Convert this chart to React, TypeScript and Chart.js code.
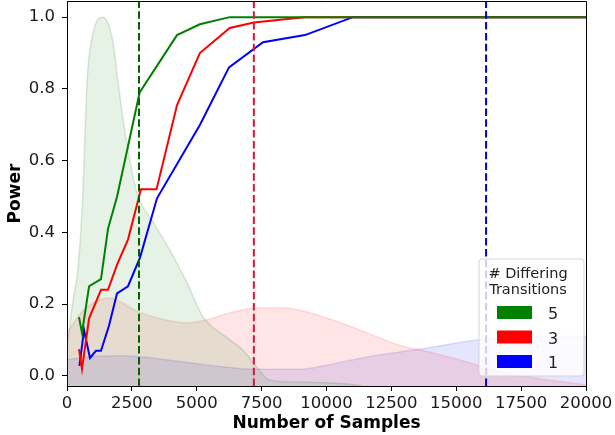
import { useEffect, useRef } from "react";
import { Chart, registerables } from "chart.js";

Chart.register(...registerables);

// ---- axes ----
const xMin = 0;
const xMax = 20000;
const yMin = -0.028;
const yMax = 1.045;
const xTicks = [0, 2500, 5000, 7500, 10000, 12500, 15000, 17500, 20000];
const yTicks = [0.0, 0.2, 0.4, 0.6, 0.8, 1.0];

// ---- legend ----
const legendTitle = ["# Differing", "Transitions"];
const groupLabels = ["5", "3", "1"];

// ---- power curves ----
const powerX5 = [462, 578, 850, 1310, 1580, 1930, 2800, 4240, 5120, 6270, 20000];
const powerY5 = [0.164, 0.12, 0.25, 0.27, 0.41, 0.5, 0.79, 0.95, 0.98, 1.0, 1.0];

const powerX3 = [462, 578, 850, 1310, 1580, 1930, 2350, 2850, 3450, 4240, 5120, 6270, 7200, 9160, 20000];
const powerY3 = [0.075, 0.02, 0.16, 0.24, 0.24, 0.31, 0.38, 0.52, 0.52, 0.755, 0.9, 0.97, 0.985, 1.0, 1.0];

const powerX1 = [480, 655, 885, 1117, 1310, 1618, 1927, 2350, 2813, 3468, 5125, 6243, 7553, 9170, 11020, 20000];
const powerY1 = [0.028, 0.128, 0.05, 0.07, 0.07, 0.14, 0.23, 0.25, 0.33, 0.495, 0.7, 0.86, 0.93, 0.95, 1.0, 1.0];

// ---- sample-size densities (drawn in power units) ----
const densX5 = [0, 231, 424, 600, 771, 1002, 1387, 1773, 1965, 2235, 2697, 3314, 3969, 4624, 5241, 6127, 6782, 7399, 7784, 8979, 11175, 11368];
const densY5 = [0.08, 0.21, 0.3, 0.49, 0.82, 0.955, 1.0, 0.93, 0.82, 0.68, 0.51, 0.43, 0.35, 0.26, 0.165, 0.109, 0.072, 0.017, -0.011, -0.017, -0.025, -0.028];

const densX3 = [0, 600, 1618, 2775, 3815, 4586, 5356, 6397, 7399, 8208, 8940, 10250, 11561, 12832, 13873, 15414, 16686, 20000];
const densY3 = [0.12, 0.18, 0.217, 0.178, 0.156, 0.148, 0.156, 0.178, 0.19, 0.19, 0.184, 0.156, 0.12, 0.085, 0.068, 0.039, 0.011, -0.025];

const densX1 = [0, 700, 2280, 3815, 5742, 7206, 8979, 10000, 11561, 13873, 15800, 17960, 20000];
const densY1 = [0.045, 0.053, 0.056, 0.045, 0.028, 0.019, 0.019, 0.03, 0.053, 0.078, 0.1, 0.109, 0.111];

// ---- selected sample sizes (vertical dashed lines) ----
const thresholdX = [2775, 7200, 16150];

const zip = (xs: number[], ys: number[]) => xs.map((x, i) => ({ x, y: ys[i] }));

export default function App() {
  const ref = useRef<HTMLCanvasElement | null>(null);

  useEffect(() => {
    if (!ref.current) return;
    const lineColors = ["#008000", "#ff0000", "#0000ff"];
    const dashColors = ["#006400", "#dc143c", "#0000cd"];
    const fillColors = ["rgba(0,128,0,0.1)", "rgba(255,0,0,0.1)", "rgba(0,0,255,0.1)"];
    const edgeColors = ["rgba(0,100,0,0.14)", "rgba(255,0,0,0.12)", "rgba(0,0,255,0.12)"];
    const powers = [zip(powerX5, powerY5), zip(powerX3, powerY3), zip(powerX1, powerY1)];
    const dens = [zip(densX5, densY5), zip(densX3, densY3), zip(densX1, densY1)];

    const datasets: any[] = [];
    thresholdX.forEach((tx, i) => {
      datasets.push({
        label: "thr" + i,
        data: [
          { x: tx, y: yMin },
          { x: tx, y: yMax },
        ],
        borderColor: dashColors[i],
        borderWidth: 2,
        borderDash: [7.5, 3.3],
        pointRadius: 0,
        fill: false,
        order: 0,
      });
    });
    powers.forEach((d, i) => {
      datasets.push({
        label: groupLabels[i],
        data: d,
        borderColor: lineColors[i],
        borderWidth: 2,
        pointRadius: 0,
        fill: false,
        tension: 0,
        order: 1,
      });
    });
    dens.forEach((d, i) => {
      datasets.push({
        label: "dens" + i,
        data: d,
        borderColor: edgeColors[i],
        backgroundColor: fillColors[i],
        borderWidth: 1.5,
        pointRadius: 0,
        fill: "start",
        cubicInterpolationMode: "monotone",
        order: 2 + i,
      });
    });

    const framePlugin = {
      id: "frameAndLegend",
      afterDraw(chart: any) {
        const { ctx, chartArea: ca } = chart;
        ctx.save();
        ctx.strokeStyle = "#000";
        ctx.lineWidth = 1;
        ctx.beginPath();
        ctx.moveTo(ca.left, ca.top + 0.5);
        ctx.lineTo(ca.right + 0.5, ca.top + 0.5);
        ctx.lineTo(ca.right + 0.5, ca.bottom);
        ctx.stroke();

        // legend box
        const bx = ca.right - 107;
        const by = ca.bottom - 127;
        const bw = 105;
        const bh = 117;
        const r = 3;
        ctx.beginPath();
        ctx.moveTo(bx + r, by);
        ctx.lineTo(bx + bw - r, by);
        ctx.quadraticCurveTo(bx + bw, by, bx + bw, by + r);
        ctx.lineTo(bx + bw, by + bh - r);
        ctx.quadraticCurveTo(bx + bw, by + bh, bx + bw - r, by + bh);
        ctx.lineTo(bx + r, by + bh);
        ctx.quadraticCurveTo(bx, by + bh, bx, by + bh - r);
        ctx.lineTo(bx, by + r);
        ctx.quadraticCurveTo(bx, by, bx + r, by);
        ctx.closePath();
        ctx.fillStyle = "rgba(255,255,255,0.8)";
        ctx.fill();
        ctx.strokeStyle = "rgba(204,204,204,0.8)";
        ctx.lineWidth = 1;
        ctx.stroke();

        ctx.fillStyle = "#222";
        ctx.font = "14.5px 'DejaVu Sans'";
        ctx.textAlign = "center";
        ctx.textBaseline = "alphabetic";
        const cx = bx + 49;
        ctx.fillText(legendTitle[0], cx, by + 19);
        ctx.fillText(legendTitle[1], cx, by + 35);

        ctx.textAlign = "left";
        ctx.font = "16px 'DejaVu Sans'";
        groupLabels.forEach((lab, i) => {
          const py = by + 47 + i * 24.5;
          ctx.fillStyle = lineColors[i];
          ctx.fillRect(bx + 18, py, 35, 13);
          ctx.fillStyle = "#222";
          ctx.fillText(lab, bx + 69, py + 13);
        });
        ctx.restore();
      },
    };

    const chart = new Chart(ref.current, {
      type: "line",
      data: { datasets },
      plugins: [framePlugin],
      options: {
        animation: false,
        responsive: true,
        maintainAspectRatio: false,
        parsing: true,
        layout: { padding: { top: 1, right: 29, left: 0, bottom: 0 } },
        plugins: {
          legend: { display: false },
          tooltip: { enabled: false },
        },
        scales: {
          x: {
            type: "linear",
            min: xMin,
            max: xMax,
            afterBuildTicks: (s: any) => {
              s.ticks = xTicks.map((v) => ({ value: v }));
            },
            afterFit: (s: any) => {
              s.height = 49;
              s.paddingLeft = 0;
              s.paddingRight = 0;
            },
            ticks: {
              callback: (v: any) => String(v),
              font: { family: "'DejaVu Sans'", size: 16.5 },
              color: "#1a1a1a",
              padding: 3,
              maxRotation: 0,
              autoSkip: false,
            },
            grid: {
              display: true,
              drawOnChartArea: false,
              drawTicks: true,
              tickLength: 5,
              tickColor: "#000",
            },
            border: { display: true, color: "#000", width: 1 },
            title: {
              display: true,
              text: "Number of Samples",
              font: { family: "'DejaVu Sans'", size: 17, weight: "bold", lineHeight: 1.2 },
              color: "#000",
              padding: { top: 0, bottom: 1 },
            },
          },
          y: {
            type: "linear",
            min: yMin,
            max: yMax,
            afterBuildTicks: (s: any) => {
              s.ticks = yTicks.map((v) => ({ value: v }));
            },
            afterFit: (s: any) => {
              s.width = 67;
              s.paddingTop = 0;
              s.paddingBottom = 0;
            },
            ticks: {
              callback: (v: any) => Number(v).toFixed(1),
              font: { family: "'DejaVu Sans'", size: 16.5 },
              color: "#1a1a1a",
              padding: 7,
              autoSkip: false,
            },
            grid: {
              display: true,
              drawOnChartArea: false,
              drawTicks: true,
              tickLength: 5,
              tickColor: "#000",
            },
            border: { display: true, color: "#000", width: 1 },
            title: {
              display: true,
              text: "Power",
              font: { family: "'DejaVu Sans'", size: 17, weight: "bold", lineHeight: 1.2 },
              color: "#000",
              padding: { top: 5, bottom: 0 },
            },
          },
        },
      } as any,
    });
    return () => chart.destroy();
  }, []);

  return (
    <div style={{ position: "fixed", left: 0, top: 0, width: 615, height: 435, background: "#fff" }}>
      <canvas ref={ref} />
    </div>
  );
}
